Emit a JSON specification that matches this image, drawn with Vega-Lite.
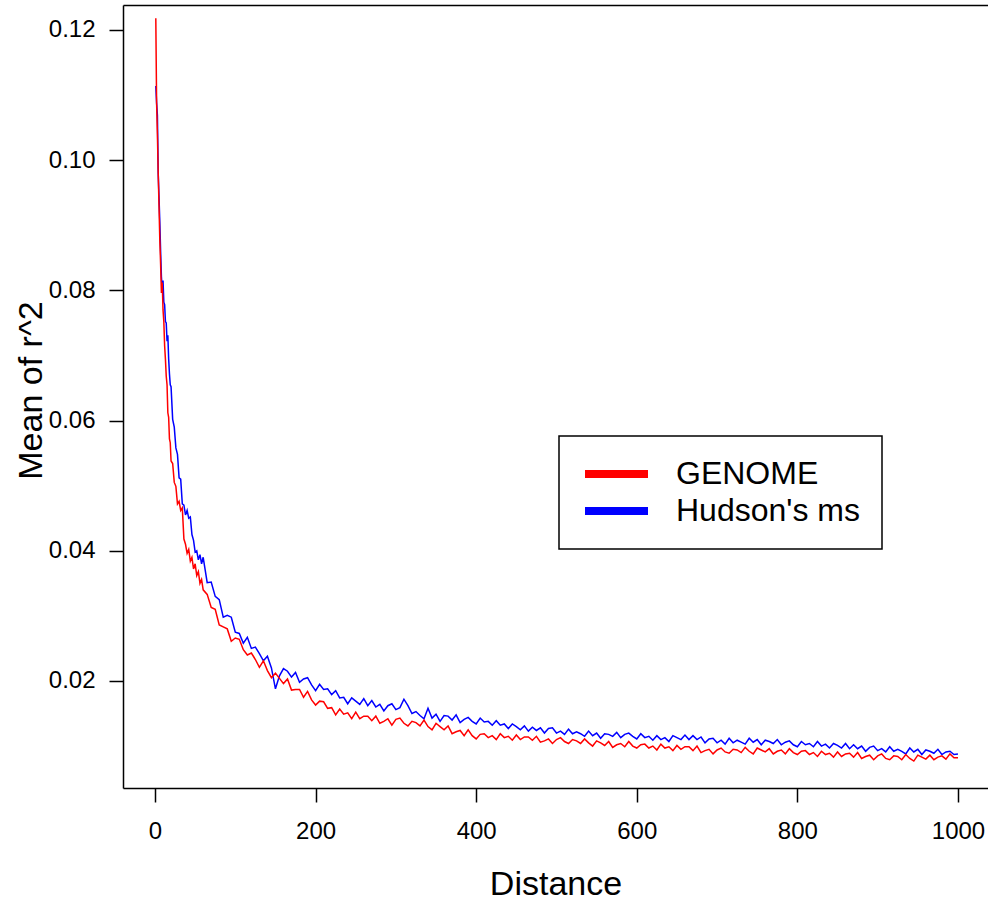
{
  "$schema": "https://vega.github.io/schema/vega-lite/v6.json",
  "width": 865,
  "height": 783,
  "autosize": {"type": "none"},
  "padding": {"left": 123, "top": 5, "right": 0, "bottom": 114},
  "background": "white",
  "config": {
    "view": {"stroke": null},
    "font": "Liberation Sans",
    "axis": {
      "grid": false,
      "domainColor": "black",
      "domainWidth": 1.5,
      "tickColor": "black",
      "tickWidth": 1.5,
      "tickSize": 14,
      "labelFont": "Liberation Sans",
      "labelFontSize": 24,
      "labelColor": "black",
      "titleFont": "Liberation Sans",
      "titleFontSize": 34,
      "titleFontWeight": "normal",
      "titleColor": "black",
      "labelFlush": false,
      "labelOverlap": false
    },
    "legend": {"strokeWidth": 1.5}
  },
  "data": {"values": [
    {"d":1,"g":0.1218,"h":0.1114},{"d":2,"g":0.1088,"h":0.1088},{"d":3,"g":0.1040,"h":0.1069},{"d":4,"g":0.0980,"h":0.0980},{"d":5,"g":0.0930,"h":0.0943},
    {"d":6,"g":0.0877,"h":0.0905},{"d":7,"g":0.0840,"h":0.0860},{"d":8,"g":0.0796,"h":0.0821},{"d":9,"g":0.0812,"h":0.0800},{"d":10,"g":0.0770,"h":0.0815},
    {"d":11,"g":0.0752,"h":0.0782},{"d":12,"g":0.0715,"h":0.0778},{"d":13,"g":0.0694,"h":0.0752},{"d":14,"g":0.0668,"h":0.0750},{"d":15,"g":0.0655,"h":0.0722},
    {"d":16,"g":0.0612,"h":0.0731},{"d":17,"g":0.0605,"h":0.0695},{"d":18,"g":0.0572,"h":0.0672},{"d":19,"g":0.0566,"h":0.0655},{"d":20,"g":0.0538,"h":0.0652},
    {"d":22,"g":0.0534,"h":0.0602},{"d":24,"g":0.0505,"h":0.0590},{"d":26,"g":0.0499,"h":0.0558},{"d":28,"g":0.0472,"h":0.0548},{"d":30,"g":0.0476,"h":0.0512},
    {"d":32,"g":0.0462,"h":0.0510},{"d":34,"g":0.0466,"h":0.0472},{"d":36,"g":0.0418,"h":0.0470},{"d":38,"g":0.0410,"h":0.0455},{"d":40,"g":0.0396,"h":0.0462},
    {"d":42,"g":0.0402,"h":0.0450},{"d":44,"g":0.0384,"h":0.0452},{"d":46,"g":0.0390,"h":0.0425},{"d":48,"g":0.0372,"h":0.0416},{"d":50,"g":0.0380,"h":0.0398},
    {"d":52,"g":0.0362,"h":0.0400},{"d":54,"g":0.0368,"h":0.0386},{"d":56,"g":0.0350,"h":0.0394},{"d":58,"g":0.0356,"h":0.0380},{"d":60,"g":0.0340,"h":0.0390},
    {"d":65,"g":0.0333,"h":0.0351},{"d":70,"g":0.0313,"h":0.0352},{"d":75,"g":0.0310,"h":0.0330},{"d":80,"g":0.0286,"h":0.0325},{"d":85,"g":0.0283,"h":0.0298},
    {"d":90,"g":0.0280,"h":0.0301},{"d":95,"g":0.0261,"h":0.0298},{"d":100,"g":0.0266,"h":0.0275},{"d":105,"g":0.0264,"h":0.0273},{"d":110,"g":0.0248,"h":0.0258},
    {"d":115,"g":0.0240,"h":0.0267},{"d":120,"g":0.0243,"h":0.0250},{"d":125,"g":0.0233,"h":0.0252},{"d":130,"g":0.0221,"h":0.0242},{"d":135,"g":0.0231,"h":0.0231},
    {"d":140,"g":0.0216,"h":0.0238},{"d":145,"g":0.0205,"h":0.0220},{"d":150,"g":0.0212,"h":0.0188},{"d":155,"g":0.0204,"h":0.0208},{"d":160,"g":0.0196,"h":0.0219},
    {"d":165,"g":0.0203,"h":0.0215},{"d":170,"g":0.0186,"h":0.0206},{"d":175,"g":0.0187,"h":0.0213},{"d":180,"g":0.0187,"h":0.0198},{"d":185,"g":0.0175,"h":0.0203},
    {"d":190,"g":0.0184,"h":0.0205},{"d":195,"g":0.0171,"h":0.0194},{"d":200,"g":0.0163,"h":0.0185},{"d":205,"g":0.0169,"h":0.0195},{"d":210,"g":0.0168,"h":0.0187},
    {"d":215,"g":0.0158,"h":0.0188},{"d":220,"g":0.0159,"h":0.0179},{"d":225,"g":0.0148,"h":0.0185},{"d":230,"g":0.0157,"h":0.0174},{"d":235,"g":0.0149,"h":0.0175},
    {"d":240,"g":0.0151,"h":0.0165},{"d":245,"g":0.0142,"h":0.0174},{"d":250,"g":0.0152,"h":0.0169},{"d":255,"g":0.0142,"h":0.0164},{"d":260,"g":0.0146,"h":0.0173},
    {"d":265,"g":0.0146,"h":0.0162},{"d":270,"g":0.0139,"h":0.0170},{"d":275,"g":0.0146,"h":0.0160},{"d":280,"g":0.0135,"h":0.0164},{"d":285,"g":0.0138,"h":0.0154},
    {"d":290,"g":0.0142,"h":0.0162},{"d":295,"g":0.0132,"h":0.0165},{"d":300,"g":0.0141,"h":0.0156},{"d":305,"g":0.0143,"h":0.0159},{"d":310,"g":0.0135,"h":0.0172},
    {"d":315,"g":0.0131,"h":0.0162},{"d":320,"g":0.0138,"h":0.0150},{"d":325,"g":0.0136,"h":0.0153},{"d":330,"g":0.0131,"h":0.0147},{"d":335,"g":0.0140,"h":0.0142},
    {"d":340,"g":0.0130,"h":0.0158},{"d":345,"g":0.0125,"h":0.0143},{"d":350,"g":0.0135,"h":0.0149},{"d":355,"g":0.0130,"h":0.0138},{"d":360,"g":0.0125,"h":0.0147},
    {"d":365,"g":0.0131,"h":0.0146},{"d":370,"g":0.0119,"h":0.0140},{"d":375,"g":0.0122,"h":0.0148},{"d":380,"g":0.0124,"h":0.0136},{"d":385,"g":0.0116,"h":0.0141},
    {"d":390,"g":0.0125,"h":0.0144},{"d":395,"g":0.0116,"h":0.0138},{"d":400,"g":0.0111,"h":0.0134},{"d":405,"g":0.0118,"h":0.0143},{"d":410,"g":0.0119,"h":0.0137},
    {"d":415,"g":0.0113,"h":0.0138},{"d":420,"g":0.0116,"h":0.0132},{"d":425,"g":0.0110,"h":0.0139},{"d":430,"g":0.0119,"h":0.0132},{"d":435,"g":0.0113,"h":0.0134},
    {"d":440,"g":0.0115,"h":0.0127},{"d":445,"g":0.0109,"h":0.0134},{"d":450,"g":0.0117,"h":0.0130},{"d":455,"g":0.0110,"h":0.0125},{"d":460,"g":0.0114,"h":0.0131},
    {"d":465,"g":0.0114,"h":0.0123},{"d":470,"g":0.0109,"h":0.0129},{"d":475,"g":0.0115,"h":0.0124},{"d":480,"g":0.0106,"h":0.0128},{"d":485,"g":0.0108,"h":0.0120},
    {"d":490,"g":0.0111,"h":0.0127},{"d":495,"g":0.0104,"h":0.0128},{"d":500,"g":0.0110,"h":0.0120},{"d":505,"g":0.0113,"h":0.0123},{"d":510,"g":0.0107,"h":0.0118},
    {"d":515,"g":0.0104,"h":0.0126},{"d":520,"g":0.0110,"h":0.0119},{"d":525,"g":0.0108,"h":0.0122},{"d":530,"g":0.0104,"h":0.0119},{"d":535,"g":0.0111,"h":0.0115},
    {"d":540,"g":0.0105,"h":0.0123},{"d":545,"g":0.0100,"h":0.0116},{"d":550,"g":0.0108,"h":0.0120},{"d":555,"g":0.0105,"h":0.0112},{"d":560,"g":0.0101,"h":0.0119},
    {"d":565,"g":0.0107,"h":0.0118},{"d":570,"g":0.0098,"h":0.0115},{"d":575,"g":0.0102,"h":0.0121},{"d":580,"g":0.0104,"h":0.0113},{"d":585,"g":0.0099,"h":0.0118},
    {"d":590,"g":0.0107,"h":0.0120},{"d":595,"g":0.0100,"h":0.0115},{"d":600,"g":0.0097,"h":0.0111},{"d":605,"g":0.0102,"h":0.0119},{"d":610,"g":0.0103,"h":0.0113},
    {"d":615,"g":0.0097,"h":0.0115},{"d":620,"g":0.0100,"h":0.0109},{"d":625,"g":0.0094,"h":0.0116},{"d":630,"g":0.0103,"h":0.0110},{"d":635,"g":0.0097,"h":0.0113},
    {"d":640,"g":0.0099,"h":0.0107},{"d":645,"g":0.0093,"h":0.0116},{"d":650,"g":0.0101,"h":0.0113},{"d":655,"g":0.0095,"h":0.0110},{"d":660,"g":0.0099,"h":0.0117},
    {"d":665,"g":0.0099,"h":0.0110},{"d":670,"g":0.0093,"h":0.0116},{"d":675,"g":0.0100,"h":0.0110},{"d":680,"g":0.0090,"h":0.0114},{"d":685,"g":0.0093,"h":0.0105},
    {"d":690,"g":0.0095,"h":0.0111},{"d":695,"g":0.0088,"h":0.0112},{"d":700,"g":0.0094,"h":0.0105},{"d":705,"g":0.0097,"h":0.0109},{"d":710,"g":0.0091,"h":0.0103},
    {"d":715,"g":0.0089,"h":0.0112},{"d":720,"g":0.0095,"h":0.0105},{"d":725,"g":0.0094,"h":0.0109},{"d":730,"g":0.0090,"h":0.0106},{"d":735,"g":0.0098,"h":0.0103},
    {"d":740,"g":0.0092,"h":0.0112},{"d":745,"g":0.0088,"h":0.0106},{"d":750,"g":0.0097,"h":0.0110},{"d":755,"g":0.0094,"h":0.0102},{"d":760,"g":0.0091,"h":0.0109},
    {"d":765,"g":0.0096,"h":0.0107},{"d":770,"g":0.0088,"h":0.0104},{"d":775,"g":0.0092,"h":0.0110},{"d":780,"g":0.0094,"h":0.0102},{"d":785,"g":0.0088,"h":0.0106},
    {"d":790,"g":0.0096,"h":0.0108},{"d":795,"g":0.0090,"h":0.0102},{"d":800,"g":0.0087,"h":0.0099},{"d":805,"g":0.0092,"h":0.0107},{"d":810,"g":0.0093,"h":0.0102},
    {"d":815,"g":0.0087,"h":0.0104},{"d":820,"g":0.0090,"h":0.0099},{"d":825,"g":0.0084,"h":0.0107},{"d":830,"g":0.0092,"h":0.0100},{"d":835,"g":0.0087,"h":0.0103},
    {"d":840,"g":0.0089,"h":0.0097},{"d":845,"g":0.0083,"h":0.0104},{"d":850,"g":0.0091,"h":0.0101},{"d":855,"g":0.0084,"h":0.0097},{"d":860,"g":0.0088,"h":0.0104},
    {"d":865,"g":0.0089,"h":0.0096},{"d":870,"g":0.0083,"h":0.0102},{"d":875,"g":0.0090,"h":0.0096},{"d":880,"g":0.0081,"h":0.0100},{"d":885,"g":0.0084,"h":0.0092},
    {"d":890,"g":0.0086,"h":0.0098},{"d":895,"g":0.0079,"h":0.0100},{"d":900,"g":0.0085,"h":0.0093},{"d":905,"g":0.0088,"h":0.0096},{"d":910,"g":0.0081,"h":0.0091},
    {"d":915,"g":0.0079,"h":0.0099},{"d":920,"g":0.0085,"h":0.0092},{"d":925,"g":0.0084,"h":0.0095},{"d":930,"g":0.0079,"h":0.0092},{"d":935,"g":0.0087,"h":0.0088},
    {"d":940,"g":0.0081,"h":0.0097},{"d":945,"g":0.0077,"h":0.0091},{"d":950,"g":0.0086,"h":0.0095},{"d":955,"g":0.0083,"h":0.0087},{"d":960,"g":0.0080,"h":0.0094},
    {"d":965,"g":0.0086,"h":0.0092},{"d":970,"g":0.0079,"h":0.0089},{"d":975,"g":0.0083,"h":0.0095},{"d":980,"g":0.0085,"h":0.0087},{"d":985,"g":0.0080,"h":0.0091},
    {"d":990,"g":0.0088,"h":0.0092},{"d":995,"g":0.0082,"h":0.0087},{"d":1000,"g":0.0082,"h":0.0088}
  ]},
  "layer": [
    {
      "mark": {"type": "line", "strokeWidth": 1.5},
      "encoding": {
        "x": {
          "field": "d", "type": "quantitative",
          "scale": {"domain": [-39.85, 1037.4], "nice": false, "zero": false},
          "axis": {"orient": "bottom", "values": [0, 200, 400, 600, 800, 1000], "format": "d", "labelPadding": 17, "title": "Distance", "titleY": 106, "titleBaseline": "alphabetic"}
        },
        "y": {
          "field": "h", "type": "quantitative",
          "scale": {"domain": [0.00356, 0.12384], "nice": false, "zero": false},
          "axis": {"values": [0.02, 0.04, 0.06, 0.08, 0.1, 0.12], "format": ".2f", "labelPadding": 14, "title": "Mean of r^2", "titleX": -82, "titleY": 385, "titleBaseline": "alphabetic"}
        },
        "color": {
          "datum": "Hudson's ms", "type": "nominal",
          "scale": {"domain": ["GENOME", "Hudson's ms"], "range": ["#ff0000", "#0000ff"]},
          "legend": {
            "title": null, "orient": "none", "legendX": 436, "legendY": 431,
            "symbolType": "stroke", "symbolStrokeWidth": 8, "symbolSize": 3969,
            "labelFont": "Liberation Sans", "labelFontSize": 32, "labelColor": "black", "labelLimit": 0,
            "padding": 22, "rowPadding": 5, "labelOffset": 24, "clipHeight": 32,
            "strokeColor": "black", "fillColor": "white", "symbolOpacity": 1
          }
        }
      }
    },
    {
      "mark": {"type": "line", "strokeWidth": 1.5},
      "encoding": {
        "x": {
          "field": "d", "type": "quantitative",
          "scale": {"domain": [-39.85, 1037.4], "nice": false, "zero": false},
          "axis": {"orient": "top", "labels": false, "ticks": false, "title": null, "domain": true}
        },
        "y": {
          "field": "g", "type": "quantitative",
          "scale": {"domain": [0.00356, 0.12384], "nice": false, "zero": false},
          "axis": {"values": [0.02, 0.04, 0.06, 0.08, 0.1, 0.12], "format": ".2f", "labelPadding": 14, "title": "Mean of r^2", "titleX": -82, "titleY": 385, "titleBaseline": "alphabetic"}
        },
        "color": {"datum": "GENOME", "type": "nominal"}
      }
    }
  ],
  "resolve": {"axis": {"x": "independent"}}
}
